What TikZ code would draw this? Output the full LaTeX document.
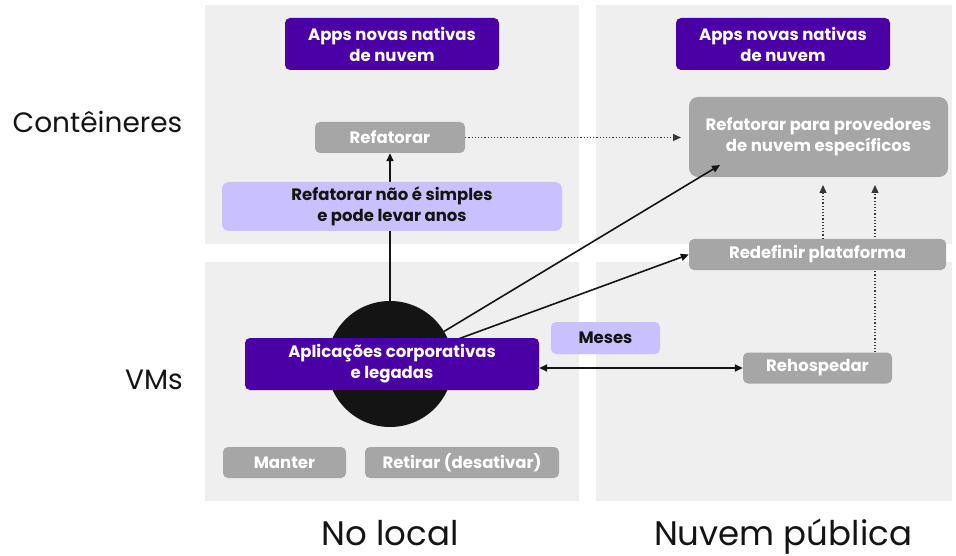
\documentclass[tikz,border=0pt]{standalone}
\usepackage{fontspec}
\setmainfont{Poppins}[BoldFont={Poppins Bold}]
\usetikzlibrary{arrows.meta}
\definecolor{panel}{HTML}{EFEFEF}
\definecolor{purp}{HTML}{4B00A6}
\definecolor{lav}{HTML}{C9C0FF}
\definecolor{grayb}{HTML}{A6A6A6}
\definecolor{ink}{HTML}{141414}
\tikzset{
  x=1pt,y=-1pt,
  box/.style={rounded corners=5pt, inner sep=0pt, align=center, font=\fontsize{16.5}{21}\selectfont\bfseries},
  purpbox/.style={box, fill=purp, text=white},
  lavbox/.style={box, fill=lav, text=ink},
  graybox/.style={box, fill=grayb, text=white},
  conn/.style={draw=ink, line width=1.6pt, -{Triangle[length=8pt,width=7pt]}},
  dotconn/.style={draw=ink!85, line width=1.2pt, dotted, -{Triangle[length=8pt,width=7pt]}},
  axis/.style={font=\fontsize{28}{32}\selectfont, text=ink, inner sep=0pt},
  axisbig/.style={font=\fontsize{34}{40}\selectfont, text=ink, inner sep=0pt, anchor=base}
}
\begin{document}
\begin{tikzpicture}
\useasboundingbox (0,0) rectangle (956,556);
% panels
\fill[panel] (205,5) rectangle (579,244);
\fill[panel] (596,5) rectangle (952,244);
\fill[panel] (205,262) rectangle (579,501);
\fill[panel] (596,262) rectangle (952,501);
% axis labels
\node[axis] (lcont) at (97.5,122) {Contêineres};
\node[axis] (lvms) at (154,380) {VMs};
\node[axisbig] (lloc) at (390,545) {No local};
\node[axisbig] (lnuv) at (783,545) {Nuvem pública};
% circle
\node[circle, fill=ink, minimum size=126pt, inner sep=0pt] (circ) at (390,364) {};
% nodes
\node[purpbox, minimum width=214pt, minimum height=52pt] (appsL) at (392,44) {Apps novas nativas\\de nuvem};
\node[purpbox, minimum width=214pt, minimum height=52pt] (appsR) at (783,44) {Apps novas nativas\\de nuvem};
\node[graybox, minimum width=150pt, minimum height=31pt] (refat) at (390,137.5) {Refatorar};
\node[graybox, minimum width=259pt, minimum height=80pt, rounded corners=9pt] (prov) at (818.5,137) {Refatorar para provedores\\de nuvem específicos};
\coordinate (provin) at (720,165);
\coordinate (provleft) at (681,137.5);
\coordinate (t1) at (823,185);
\coordinate (t2) at (875,185);
% connectors behind boxes
\draw[conn] (circ) -- (refat.south);
\draw[dotconn] (refat.east) -- (provleft);
\node[graybox, minimum width=149pt, minimum height=31pt] (rehosp) at (817.5,368) {Rehospedar};
\draw[dotconn] (rehosp.north -| t2) -- (t2);
\node[lavbox, minimum width=340pt, minimum height=49pt, rounded corners=7pt] (hard) at (392,206.5) {Refatorar não é simples\\e pode levar anos};
\node[graybox, minimum width=257pt, minimum height=31pt] (redef) at (817.5,254.5) {Redefinir plataforma};
\draw[dotconn] (redef.north -| t1) -- (t1);
\draw[conn] (circ) -- (provin);
\draw[conn] (circ) -- (redef.west);
\node[lavbox, minimum width=109pt, minimum height=32pt] (meses) at (605.5,338) {Meses};
\node[purpbox, minimum width=294pt, minimum height=52pt] (corp) at (392,364) {Aplicações corporativas\\e legadas};
\draw[conn, {Triangle[length=8pt,width=7pt]}-{Triangle[length=8pt,width=7pt]}] (corp.east |- rehosp.west) -- (rehosp.west);
\node[graybox, minimum width=123pt, minimum height=31pt] (manter) at (284.5,462.5) {Manter};
\node[graybox, minimum width=194pt, minimum height=31pt] (retirar) at (462,462.5) {Retirar (desativar)};
\end{tikzpicture}
\end{document}
